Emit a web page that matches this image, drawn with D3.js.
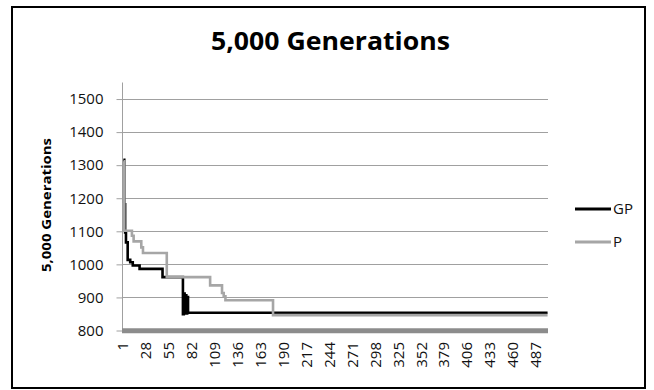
<!DOCTYPE html>
<html>
<head>
<meta charset="utf-8">
<script src="https://cdn.jsdelivr.net/npm/d3@7"></script>
<style>
    body { margin: 0; background: #fff; }
    svg { display: block; font-family: "Open Sans", "Noto Sans", sans-serif; }
</style>
</head>
<body>
<svg id="chart"></svg>
<script>
// 500 generations on the category axis, labelled every 27th
const categoryCount = 500;
const xTickLabels = [1, 28, 55, 82, 109, 136, 163, 190, 217, 244, 271, 298, 325, 352, 379, 406, 433, 460, 487];
const yTickLabels = [800, 900, 1000, 1100, 1200, 1300, 1400, 1500];

// each series is a step line: value holds from its start category to the next start
const gpStart = [1, 2, 3, 4, 6, 9, 12, 20, 47, 71, 72, 73, 74, 75, 76, 77];
const gpValue = [1315, 1180, 1095, 1065, 1012, 1005, 995, 985, 960, 848, 910, 850, 905, 850, 900, 852];

const pStart = [1, 2, 11, 13, 22, 24, 52, 103, 117, 119, 121, 177];
const pValue = [1310, 1100, 1085, 1068, 1050, 1033, 960, 935, 912, 902, 890, 845];

const seriesNames = ["GP", "P"];
const seriesColors = ["#000000", "#a6a6a6"];

const width = 654, height = 390;
const plot = { left: 123, right: 548, top: 82, bottom: 330 };

let svg = d3.select("#chart")
    .attr("width", width)
    .attr("height", height);

// chart border
svg.append("rect")
    .attr("x", 12)
    .attr("y", 7)
    .attr("width", 633)
    .attr("height", 381)
    .attr("fill", "#fff")
    .attr("stroke", "#000")
    .attr("stroke-width", 2);

// scales
let xScale = d3.scaleLinear()
    .domain([0.5, categoryCount + 0.5])
    .range([plot.left, plot.right]);

let yScale = d3.scaleLinear()
    .domain([800, 1550])
    .range([plot.bottom, plot.top]);

// gridlines
svg.append("g")
    .selectAll("line")
    .data(yTickLabels.slice(1))
    .join("line")
    .attr("x1", plot.left)
    .attr("x2", plot.right)
    .attr("y1", d => Math.round(yScale(d)) + 0.5)
    .attr("y2", d => Math.round(yScale(d)) + 0.5)
    .attr("stroke", "#a0a0a0")
    .attr("stroke-width", 1);

// y axis
let yAxis = g => g
    .attr("transform", `translate(${plot.left - 0.5},0.5)`)
    .call(d3.axisLeft(yScale).tickValues(yTickLabels).tickSize(6).tickPadding(13).tickFormat(d3.format("d")))
    .call(g => g.select(".domain").attr("stroke", "#a0a0a0").attr("d", `M0,${plot.top}V${plot.bottom}`))
    .call(g => g.selectAll(".tick line").attr("stroke", "#a0a0a0"))
    .call(g => g.selectAll(".tick text")
        .attr("font-family", "'Open Sans', sans-serif")
        .attr("font-size", 15)
        .attr("fill", "#111"));

svg.append("g").call(yAxis);

// x axis labels, rotated
let xAxis = g => g
    .attr("transform", `translate(0,${plot.bottom})`)
    .call(d3.axisBottom(xScale).tickValues(xTickLabels).tickSize(0).tickFormat(d3.format("d")))
    .call(g => g.select(".domain").remove())
    .call(g => g.selectAll(".tick text")
        .attr("font-family", "'Open Sans', sans-serif")
        .attr("font-size", 15)
        .attr("fill", "#111")
        .attr("text-anchor", "end")
        .attr("transform", "rotate(-90)")
        .attr("x", -12)
        .attr("y", -1)
        .attr("dy", "0.35em"));

svg.append("g").call(xAxis);

// thick gray axis band along the bottom
svg.append("line")
    .attr("x1", plot.left - 1)
    .attr("x2", plot.right)
    .attr("y1", plot.bottom + 0.8)
    .attr("y2", plot.bottom + 0.8)
    .attr("stroke", "#8c8c8c")
    .attr("stroke-width", 5);

// series lines
let makePoints = (starts, values) => {
    let pts = starts.map((s, i) => [s, values[i]]);
    pts.push([categoryCount, values[values.length - 1]]);
    return pts;
};

let line = d3.line()
    .x(d => xScale(d[0]))
    .y(d => yScale(d[1]))
    .curve(d3.curveStepAfter);

let seriesData = [makePoints(gpStart, gpValue), makePoints(pStart, pValue)];

svg.append("g")
    .selectAll("path")
    .data(seriesData)
    .join("path")
    .attr("d", line)
    .attr("fill", "none")
    .attr("stroke", (d, i) => seriesColors[i])
    .attr("stroke-width", 2.6)
    .attr("stroke-linejoin", "miter");

// title
svg.append("text")
    .attr("x", 211)
    .attr("y", 50)
    .attr("font-family", "'Open Sans', sans-serif")
    .attr("font-weight", "bold")
    .attr("font-size", 25)
    .attr("textLength", 239)
    .attr("lengthAdjust", "spacingAndGlyphs")
    .attr("fill", "#000")
    .text("5,000 Generations");

// y axis title
svg.append("text")
    .attr("transform", "translate(51,205) rotate(-90)")
    .attr("text-anchor", "middle")
    .attr("font-family", "'Open Sans', sans-serif")
    .attr("font-weight", "bold")
    .attr("font-size", 13)
    .attr("textLength", 134)
    .attr("lengthAdjust", "spacingAndGlyphs")
    .attr("fill", "#000")
    .text("5,000 Generations");

// legend
let legendY = [209, 242];
let legend = svg.append("g")
    .selectAll("g")
    .data(seriesNames)
    .join("g")
    .attr("transform", (d, i) => `translate(575,${legendY[i]})`);

legend.append("line")
    .attr("x1", 0)
    .attr("x2", 36)
    .attr("stroke", (d, i) => seriesColors[i])
    .attr("stroke-width", 3);

legend.append("text")
    .attr("x", 38)
    .attr("dy", "0.36em")
    .attr("font-family", "'Open Sans', sans-serif")
    .attr("font-size", 15)
    .attr("fill", "#111")
    .text(d => d);
</script>
</body>
</html>
